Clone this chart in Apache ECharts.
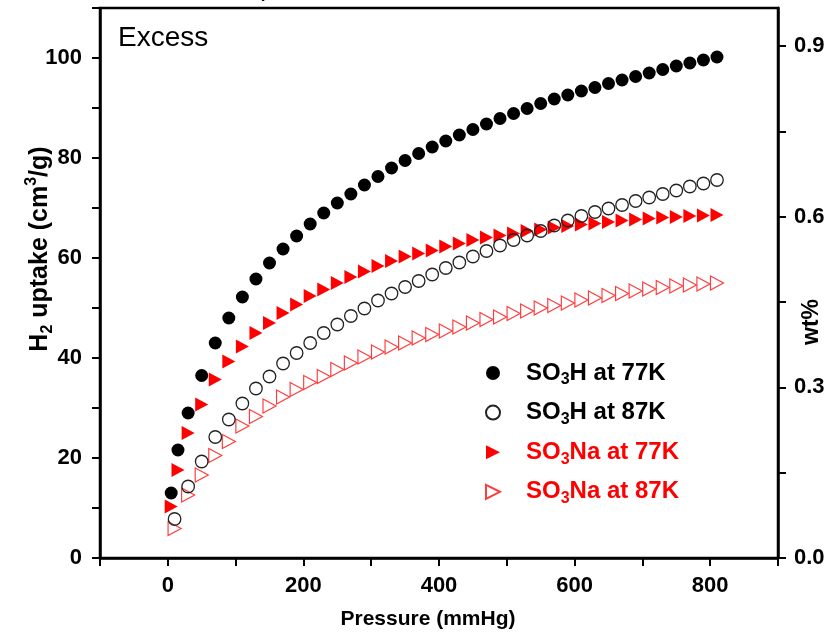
<!DOCTYPE html>
<html>
<head>
<meta charset="utf-8">
<script src="https://cdn.jsdelivr.net/npm/echarts@6/dist/echarts.min.js"></script>
<style>
html,body{margin:0;padding:0;background:#fff;}
#chart{width:829px;height:635px;}
</style>
</head>
<body>
<div id="chart"></div>
<script>
// ---- data ----
const seriesNames = ['SO3H at 77K', 'SO3H at 87K', 'SO3Na at 77K', 'SO3Na at 87K'];
const pressure77 = [5,15,30,50,70,90,110,130,150,170,190,210,230,250,270,290,310,330,350,370,390,410,430,450,470,490,510,530,550,570,590,610,630,650,670,690,710,730,750,770,790,810];
const pressure87 = [10,30,50,70,90,110,130,150,170,190,210,230,250,270,290,310,330,350,370,390,410,430,450,470,490,510,530,550,570,590,610,630,650,670,690,710,730,750,770,790,810];
const so3h77 = [13.0,21.6,29.0,36.5,43.0,48.0,52.2,55.8,59.0,61.8,64.4,66.8,69.0,71.0,72.8,74.6,76.3,78.0,79.5,80.9,82.2,83.4,84.6,85.7,86.8,87.9,88.9,89.9,90.9,91.8,92.6,93.4,94.1,94.9,95.6,96.3,97.0,97.7,98.4,99.0,99.6,100.2];
const so3na77 = [10.3,17.6,25.0,30.7,35.7,39.3,42.3,45.0,47.0,49.0,50.7,52.4,53.7,55.0,56.2,57.3,58.4,59.4,60.3,60.9,61.5,62.3,62.9,63.6,64.1,64.5,64.9,65.4,65.7,66.1,66.4,66.7,66.9,67.2,67.5,67.7,67.9,68.1,68.2,68.4,68.5,68.6];
const so3h87 = [7.8,14.3,19.3,24.2,27.7,30.9,33.9,36.3,38.9,41.0,43.0,45.0,46.7,48.4,49.9,51.5,52.9,54.2,55.4,56.7,58.0,59.1,60.3,61.4,62.5,63.6,64.5,65.4,66.5,67.5,68.4,69.2,69.9,70.6,71.4,72.1,72.8,73.5,74.3,74.9,75.6];
const so3na87 = [5.9,12.6,16.6,20.5,23.3,26.4,28.3,30.4,32.2,33.7,35.1,36.3,37.7,39.0,40.2,41.2,42.2,43.0,44.0,44.7,45.4,46.2,47.0,47.7,48.2,48.9,49.4,50.0,50.5,51.0,51.6,52.0,52.5,52.9,53.4,53.8,54.1,54.4,54.6,54.8,55.0];
const xTickLabels = [0, 200, 400, 600, 800];
const yTickLabels = [0, 20, 40, 60, 80, 100];
const wtTickLabels = ['0.0', '0.3', '0.6', '0.9'];

// ---- chart ----
const FONT = '"Liberation Sans", Arial, sans-serif';
const pairs = (xs, ys) => xs.map((x, i) => [x, ys[i]]);
const TRI = 'path://M0,0L10,5L0,10Z';

const legendText = {
  'SO3H at 77K': '{k|SO}{ks|3}{k|H at 77K}',
  'SO3H at 87K': '{k|SO}{ks|3}{k|H at 87K}',
  'SO3Na at 77K': '{r|SO}{rs|3}{r|Na at 77K}',
  'SO3Na at 87K': '{r|SO}{rs|3}{r|Na at 87K}'
};
const main = {fontSize: 24, fontWeight: 'bold', fontFamily: FONT, lineHeight: 30, verticalAlign: 'middle'};
const sub = {fontSize: 16, fontWeight: 'bold', fontFamily: FONT, lineHeight: 15, verticalAlign: 'bottom'};

const axisTick = {show: true, length: 8, lineStyle: {color: '#000', width: 2}};
const labelStyle = {color: '#000', fontSize: 22, fontWeight: 'bold', fontFamily: FONT};

const chart = echarts.init(document.getElementById('chart'), null, {renderer: 'canvas'});
chart.setOption({
  animation: false,
  backgroundColor: '#fff',
  grid: {left: 100, right: 51, top: 8, bottom: 77, show: true, borderColor: '#000', borderWidth: 2.5, backgroundColor: 'transparent'},
  xAxis: {
    type: 'value', min: -100, max: 900, interval: 100,
    axisLine: {show: true, onZero: false, lineStyle: {color: '#000', width: 2.5}},
    axisTick, splitLine: {show: false},
    axisLabel: Object.assign({}, labelStyle, {margin: 17,
      formatter: v => xTickLabels.indexOf(v) >= 0 ? String(v) : ''})
  },
  yAxis: [{
    type: 'value', min: 0, max: 110, interval: 10,
    axisLine: {show: true, onZero: false, lineStyle: {color: '#000', width: 2.5}},
    axisTick, splitLine: {show: false},
    axisLabel: Object.assign({}, labelStyle, {margin: 18,
      formatter: v => yTickLabels.indexOf(v) >= 0 ? String(v) : ''})
  }, {
    type: 'value', position: 'right', min: 0, max: 0.967, interval: 0.15, alignTicks: false,
    axisLine: {show: true, onZero: false, lineStyle: {color: '#000', width: 2.5}},
    axisTick, splitLine: {show: false},
    axisLabel: Object.assign({}, labelStyle, {margin: 16, showMaxLabel: false,
      formatter: v => { const s = v.toFixed(1); return (wtTickLabels.indexOf(s) >= 0 && Math.abs(v - parseFloat(s)) < 1e-6) ? s : ''; }})
  }],
  legend: {
    orient: 'vertical', left: 485, top: 361, padding: 0, itemGap: 12.6, itemWidth: 14, itemHeight: 14,
    data: seriesNames,
    formatter: name => legendText[name],
    textStyle: {padding: [0, 0, 0, 21], rich: {
      k: Object.assign({}, main, {color: '#000'}),
      ks: Object.assign({}, sub, {color: '#000'}),
      r: Object.assign({}, main, {color: '#ff0000'}),
      rs: Object.assign({}, sub, {color: '#ff0000'})
    }}
  },
  series: [
    {name: seriesNames[0], type: 'scatter', data: pairs(pressure77, so3h77), symbol: 'circle', symbolSize: 13, z: 2,
     itemStyle: {color: '#000', opacity: 1}},
    {name: seriesNames[1], type: 'scatter', data: pairs(pressure87, so3h87), symbol: 'circle', symbolSize: 12.5, z: 4,
     itemStyle: {color: 'rgba(255,255,255,0)', borderColor: '#222', borderWidth: 1.3, opacity: 1}},
    {name: seriesNames[2], type: 'scatter', data: pairs(pressure77, so3na77), symbol: TRI, symbolSize: [13, 14], z: 3,
     itemStyle: {color: '#ff0000', opacity: 1}},
    {name: seriesNames[3], type: 'scatter', data: pairs(pressure87, so3na87), symbol: TRI, symbolSize: [13, 14], z: 3,
     itemStyle: {color: 'rgba(255,255,255,0)', borderColor: '#ff3b3b', borderWidth: 1.2, opacity: 1}}
  ],
  graphic: [
    {type: 'text', left: 118, top: 24, style: {text: 'Excess', fill: '#000', font: '28px ' + FONT}},
    {type: 'text', x: 256, y: -13, style: {text: '4', fill: '#000', font: 'bold 18px ' + FONT}},
    {type: 'text', x: 428, y: 619, style: {text: 'Pressure (mmHg)', fill: '#000', font: 'bold 21px ' + FONT, align: 'center', verticalAlign: 'middle'}},
    {type: 'text', x: 40, y: 249, rotation: Math.PI / 2, style: {
      text: '{b|H}{s|2}{b| uptake (cm}{p|3}{b|/g)}', align: 'center', verticalAlign: 'middle',
      rich: {
        b: {fontSize: 25, fontWeight: 'bold', fontFamily: FONT, fill: '#000', lineHeight: 32, verticalAlign: 'middle'},
        s: {fontSize: 16, fontWeight: 'bold', fontFamily: FONT, fill: '#000', lineHeight: 16, verticalAlign: 'bottom'},
        p: {fontSize: 16, fontWeight: 'bold', fontFamily: FONT, fill: '#000', lineHeight: 16, verticalAlign: 'top'}
      }}},
    {type: 'text', x: 812, y: 322, rotation: Math.PI / 2, style: {text: 'wt%', fill: '#000', font: 'bold 23px ' + FONT, align: 'center', verticalAlign: 'middle'}}
  ]
});
</script>
</body>
</html>
